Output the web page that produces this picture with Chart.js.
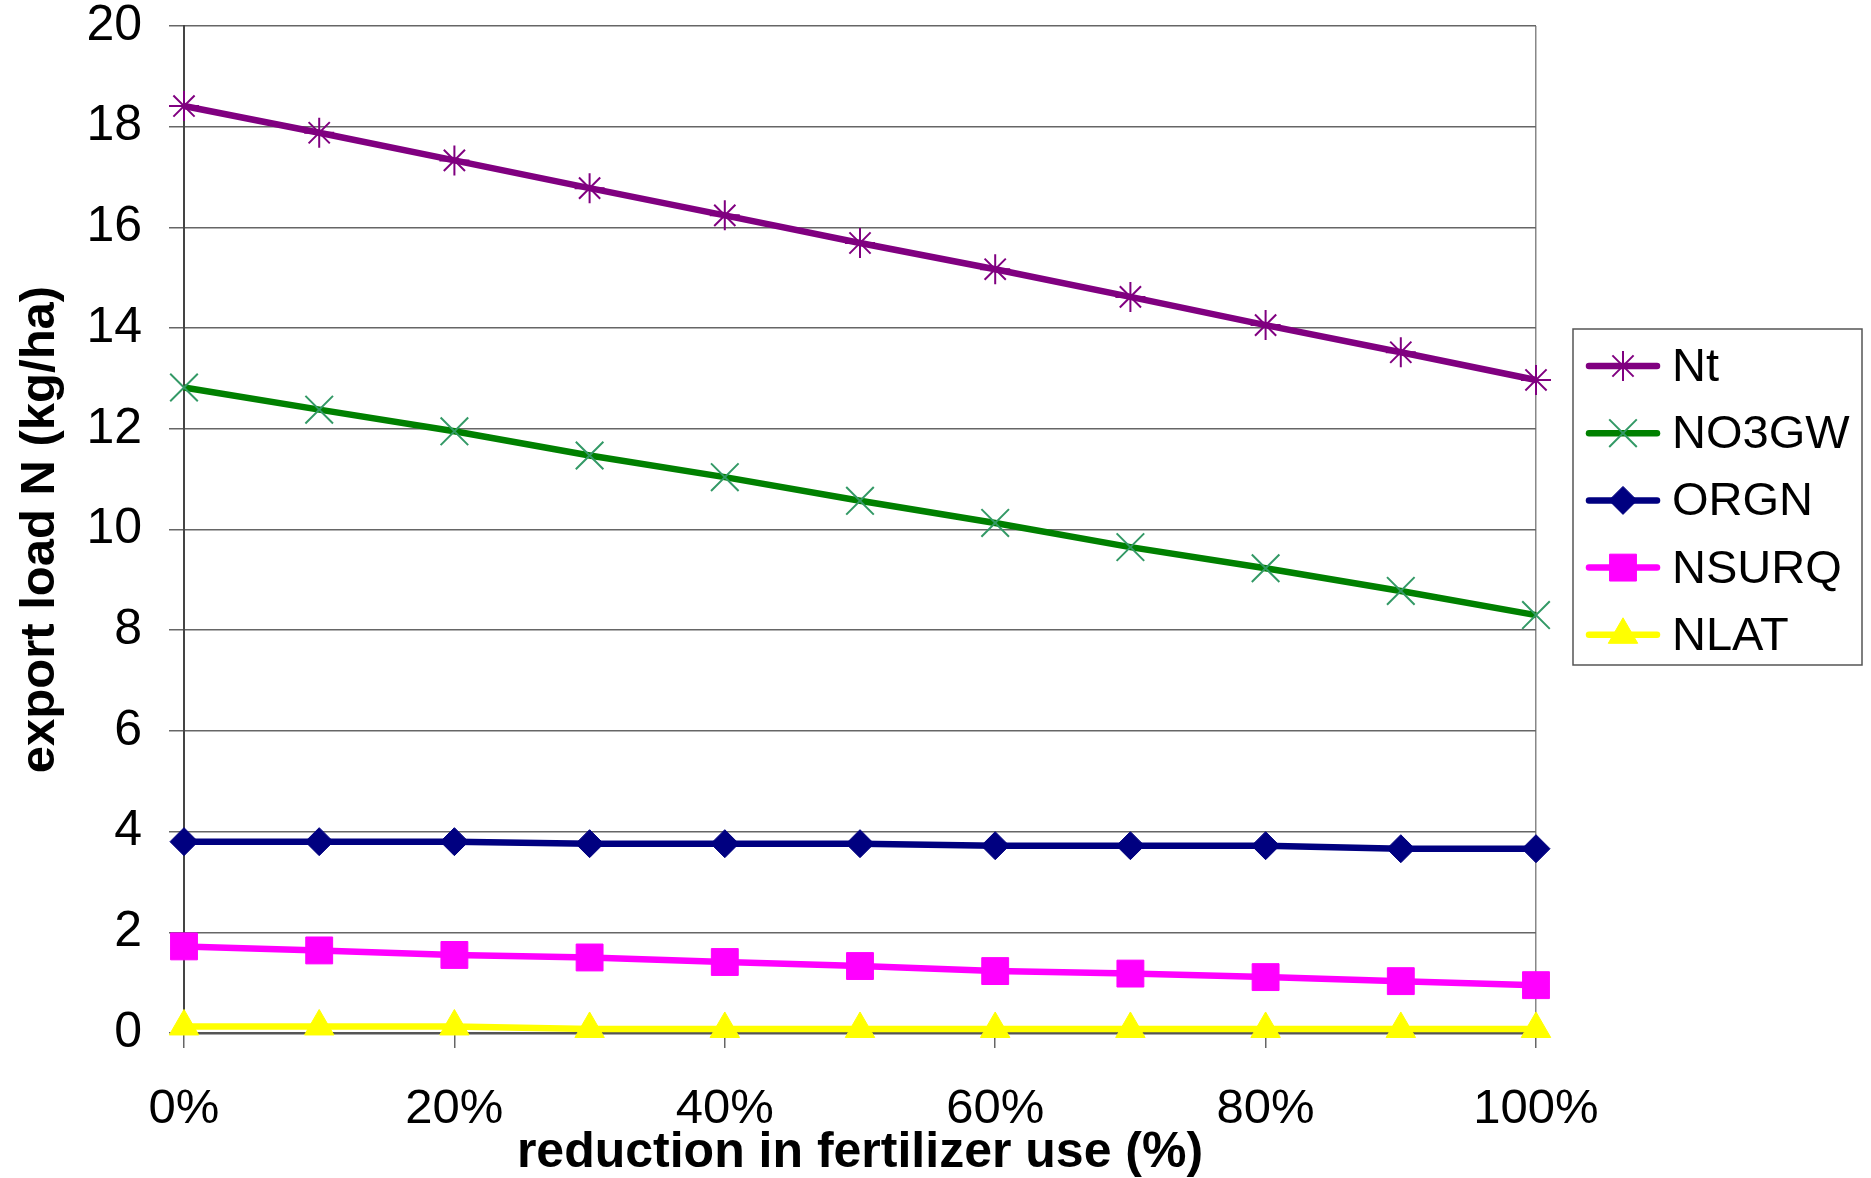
<!DOCTYPE html>
<html>
<head>
<meta charset="utf-8">
<script src="https://cdn.jsdelivr.net/npm/chart.js@4/dist/chart.umd.min.js"></script>
<style>
  html, body { margin: 0; padding: 0; background: #ffffff; }
  #wrap { width: 1871px; height: 1178px; }
</style>
</head>
<body>
<div id="wrap"><canvas id="c" width="1871" height="1178"></canvas></div>
<script>
// ---- data ----
const categories = [0, 10, 20, 30, 40, 50, 60, 70, 80, 90, 100]; // reduction in fertilizer use (%)
const seriesNames = ['Nt', 'NO3GW', 'ORGN', 'NSURQ', 'NLAT'];
const nt    = [18.41, 17.88, 17.33, 16.78, 16.24, 15.69, 15.17, 14.62, 14.06, 13.52, 12.97];
const no3gw = [12.82, 12.38, 11.95, 11.47, 11.04, 10.57, 10.13, 9.65, 9.23, 8.78, 8.30];
const orgn  = [3.80, 3.80, 3.80, 3.76, 3.76, 3.76, 3.72, 3.72, 3.72, 3.66, 3.66];
const nsurq = [1.72, 1.64, 1.55, 1.50, 1.41, 1.33, 1.23, 1.18, 1.11, 1.03, 0.95];
const nlat  = [0.13, 0.13, 0.13, 0.08, 0.08, 0.08, 0.08, 0.08, 0.08, 0.08, 0.08];
const xTickValues = [0, 20, 40, 60, 80, 100];
const yTickValues = [0, 2, 4, 6, 8, 10, 12, 14, 16, 18, 20];
const xTitle = 'reduction in fertilizer use (%)';
const yTitle = 'export load N (kg/ha)';

const FONT = "'Liberation Sans', Arial, Helvetica, sans-serif";

function pts(vals) { return categories.map((c, i) => ({ x: c, y: vals[i] })); }

const styles = [
  { line: '#800080', pt: '#800080', fill: 'transparent', style: 'star',     r: 15,   bw: 2 },
  { line: '#008000', pt: '#339966', fill: 'transparent', style: 'crossRot', r: 19.5, bw: 2 },
  { line: '#000080', pt: '#000080', fill: '#000080',     style: 'rectRot',  r: 14,   bw: 1 },
  { line: '#ff00ff', pt: '#ff00ff', fill: '#ff00ff',     style: 'rect',     r: 19,   bw: 1 },
  { line: '#ffff00', pt: '#ffff00', fill: '#ffff00',     style: 'triangle', r: 17,   bw: 1 }
];
const seriesValues = [nt, no3gw, orgn, nsurq, nlat];

const datasets = seriesNames.map((name, i) => ({
  label: name,
  data: pts(seriesValues[i]),
  borderColor: styles[i].line,
  backgroundColor: styles[i].line,
  borderWidth: 6.5,
  tension: 0,
  pointStyle: styles[i].style,
  pointRadius: styles[i].r,
  pointHoverRadius: styles[i].r,
  pointBorderColor: styles[i].pt,
  pointBackgroundColor: styles[i].fill,
  pointBorderWidth: styles[i].bw,
  clip: false
}));

// custom boxed legend drawn at right
const boxedLegend = {
  id: 'boxedLegend',
  afterDraw(chart) {
    const ctx = chart.ctx;
    const left = 1573, top = 329, right = 1862, bottom = 665;
    ctx.save();
    ctx.strokeStyle = '#555555';
    ctx.lineWidth = 1.5;
    ctx.strokeRect(left, top, right - left, bottom - top);
    const y0 = 366, dy = 67.2;
    chart.data.datasets.forEach((ds, i) => {
      const y = y0 + i * dy;
      ctx.beginPath();
      ctx.strokeStyle = ds.borderColor;
      ctx.lineWidth = 6.5;
      ctx.lineCap = 'round';
      ctx.moveTo(1589, y);
      ctx.lineTo(1657, y);
      ctx.stroke();
      ctx.strokeStyle = ds.pointBorderColor;
      ctx.fillStyle = ds.pointBackgroundColor;
      ctx.lineWidth = ds.pointBorderWidth;
      ctx.lineCap = 'butt';
      Chart.helpers.drawPoint(ctx, {
        pointStyle: ds.pointStyle, radius: ds.pointRadius, borderWidth: ds.pointBorderWidth, rotation: 0
      }, 1623, y);
      ctx.fillStyle = '#000000';
      ctx.font = '47px ' + FONT;
      ctx.textBaseline = 'middle';
      ctx.textAlign = 'left';
      ctx.fillText(ds.label, 1672, y + 2);
    });
    ctx.restore();
  }
};

new Chart(document.getElementById('c'), {
  type: 'line',
  data: { datasets },
  plugins: [boxedLegend],
  options: {
    responsive: false,
    animation: false,
    devicePixelRatio: 1,
    layout: { padding: { top: 26, right: 335, left: 0, bottom: 0 } },
    plugins: { legend: { display: false }, tooltip: { enabled: false } },
    scales: {
      x: {
        type: 'linear',
        min: 0, max: 100,
        afterBuildTicks: (s) => { s.ticks = xTickValues.map(v => ({ value: v })); },
        afterFit: (s) => { s.height = 145; s.paddingLeft = 0; s.paddingRight = 0; },
        ticks: {
          callback: (v) => v + '%',
          color: '#000000',
          font: { family: FONT, size: 49, lineHeight: 1.0 },
          padding: 37,
          maxRotation: 0,
          autoSkip: false
        },
        grid: {
          drawOnChartArea: true,
          color: (c) => (c.tick && c.tick.value === 100) ? '#888888' : 'rgba(0,0,0,0)',
          tickColor: '#666666',
          lineWidth: 1.5,
          tickLength: 15
        },
        border: { display: true, color: '#555555', width: 2.5 },
        title: {
          display: true,
          text: xTitle,
          color: '#000000',
          font: { family: FONT, size: 50, weight: 'bold', lineHeight: 1.0 },
          padding: { top: 0, bottom: 0 }
        }
      },
      y: {
        type: 'linear',
        min: 0, max: 20,
        afterBuildTicks: (s) => { s.ticks = yTickValues.map(v => ({ value: v })); },
        afterFit: (s) => { s.width = 184; s.paddingTop = 0; s.paddingBottom = 0; },
        ticks: {
          color: '#000000',
          font: { family: FONT, size: 50, lineHeight: 1.0 },
          padding: 27
        },
        grid: {
          color: '#666666',
          lineWidth: 1.5,
          tickLength: 15,
          tickColor: '#666666'
        },
        border: { display: true, color: '#444444', width: 2 },
        title: {
          display: true,
          text: yTitle,
          color: '#000000',
          font: { family: FONT, size: 49, weight: 'bold', lineHeight: 1.2 },
          padding: { top: 11, bottom: 0 }
        }
      }
    }
  }
});
</script>
</body>
</html>
